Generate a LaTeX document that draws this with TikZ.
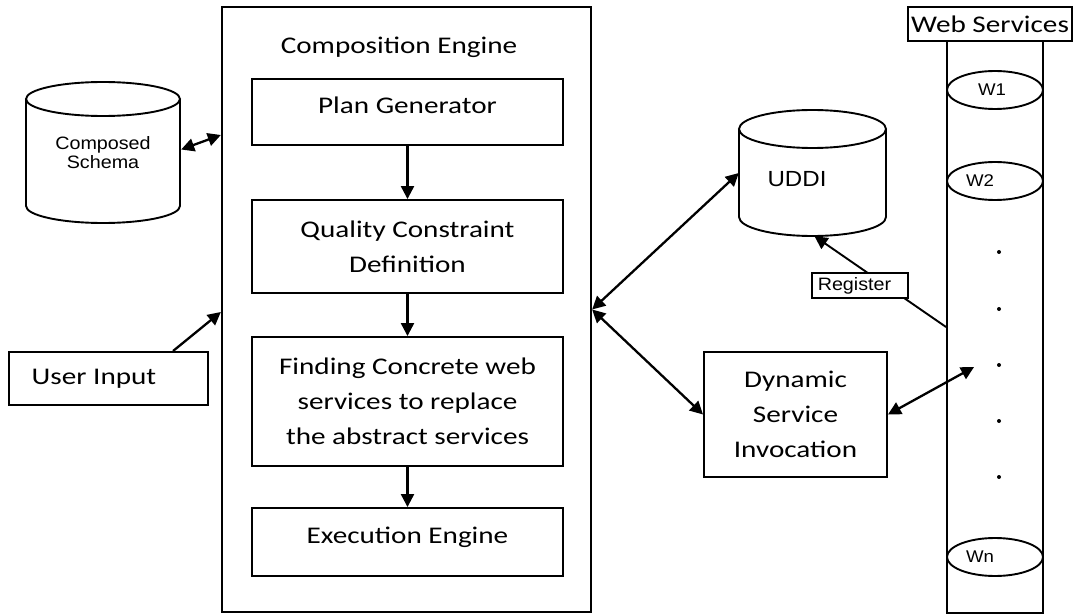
\documentclass[tikz,border=0pt]{standalone}
\usepackage{fontspec}
\usetikzlibrary{arrows.meta,calc,shapes.geometric}
\newfontfamily\calf[FakeStretch=1.22]{Carlito}
\newfontfamily\arf[FakeStretch=1.1]{Liberation Sans}
\begin{document}
\begin{tikzpicture}[x=1bp,y=-1bp,
  box/.style={draw, line width=1.9bp, inner sep=2bp, align=center,
    font=\calf\fontsize{24}{35}\selectfont},
  onel/.style={text height=16bp, text depth=13bp},
  txt/.style={inner sep=0bp, align=center},
  arr/.style={line width=2.3bp, -{Triangle[length=13bp,width=13bp]}},
  darr/.style={line width=2.3bp, {Triangle[length=13bp,width=13bp]}-{Triangle[length=13bp,width=13bp]}},
  cyl/.style={line width=1.9bp},
  wsell/.style={draw, ellipse, line width=1.9bp, minimum width=96bp, minimum height=38bp, inner sep=0bp},
  wtxt/.style={inner sep=0bp, font=\arf\fontsize{17}{19}\selectfont},
  dot/.style={circle, fill=black, inner sep=0bp, minimum size=4bp}]
\useasboundingbox (0,0) rectangle (1076,614);
\fill[white] (0,0) rectangle (1076,614);

% Composition engine
\node[box, line width=2.3bp, minimum width=369bp, minimum height=605bp] (ce) at (406.5,309.5) {};
\node[txt, font=\calf\fontsize{24}{35}\selectfont] (cet) at (399,47) {Composition Engine};
\node[box, onel, minimum width=311bp, minimum height=66bp] (pg) at (407.5,112) {Plan Generator};
\node[box, minimum width=311bp, minimum height=93bp] (qc) at (407.5,246.5) {Quality Constraint\\Definition};
\node[box, minimum width=311bp, minimum height=129bp] (fc) at (407.5,401.5) {Finding Concrete web\\services to replace\\the abstract services};
\node[box, onel, minimum width=311bp, minimum height=68bp] (ee) at (407.5,542) {Execution Engine};
\draw[arr] (pg.south) -- (qc.north);
\draw[arr] (qc.south) -- (fc.north);
\draw[arr] (fc.south) -- (ee.north);

% Composed Schema cylinder
\draw[cyl, fill=white] (26,99) -- (26,206) arc[start angle=180, end angle=0, x radius=77, y radius=17] -- (180,99);
\draw[cyl] (103,99) ellipse[x radius=77, y radius=17];
\node[txt, minimum width=154bp, minimum height=107bp, font=\arf\fontsize{18}{19.5}\selectfont] (cs) at (103,152.5) {Composed\\Schema};
\draw[darr] ($(cs.east)+(1,-3)$) -- (ce.west |- 0,135);

% User input
\node[box, minimum width=199bp, minimum height=53bp] (ui) at (108.5,378.5) {User Input\hspace*{29bp}};
\draw[arr] ($(ui.north)+(64.5,0)$) -- (ce.west |- 0,312);

% UDDI cylinder
\draw[cyl, fill=white] (739,129) -- (739,217) arc[start angle=180, end angle=0, x radius=73.5, y radius=19] -- (886,129);
\draw[cyl] (812.5,129) ellipse[x radius=73.5, y radius=19];
\node[txt, minimum width=147bp, minimum height=88bp] (uddi) at (812.5,173) {};
\node[txt, font=\arf\fontsize{22}{24}\selectfont] (uddit) at (797,179) {UDDI};
\draw[darr] (ce.east) -- (uddi.west);

% Dynamic service invocation
\node[box, minimum width=183bp, minimum height=125bp] (dsi) at (795.5,414.5) {Dynamic\\Service\\Invocation};
\draw[darr] (ce.east) -- (dsi.west);

% Web services column
\node[draw, line width=1.9bp, minimum width=96bp, minimum height=572bp, inner sep=0bp] (ws) at (995,327) {};
\node[box, fill=white, minimum width=164bp, minimum height=34bp, inner sep=0bp] (wsh) at (990,24) {Web Services};
\node[wsell] (w1) at (995,90) {};
\node[wtxt] (w1t) at (992,90) {W1};
\node[wsell] (w2) at (995,181) {};
\node[wtxt] (w2t) at (980,181) {W2};
\node[wsell] (wn) at (995,557) {};
\node[wtxt] (wnt) at (980,557) {Wn};
\node[dot] (d1) at (999,252) {};
\node[dot] (d2) at (999,309) {};
\node[dot] (d3) at (999,365) {};
\node[dot] (d4) at (999,421) {};
\node[dot] (d5) at (999,477) {};

% Register
\draw[line width=1.9bp, -{Triangle[length=13bp,width=13bp]}] (ws.west) -- ($(uddi.south)+(2,19)$);
\node[draw, line width=1.5bp, fill=white, inner sep=1.5bp, minimum width=96bp, minimum height=25bp,
  font=\arf\fontsize{18}{20}\selectfont] (reg) at (860,285.5) {Register\hspace*{11bp}};

% Invocation to web services
\draw[darr] (dsi.east) -- ($(ws.west)+(28,40)$);
\end{tikzpicture}
\end{document}
